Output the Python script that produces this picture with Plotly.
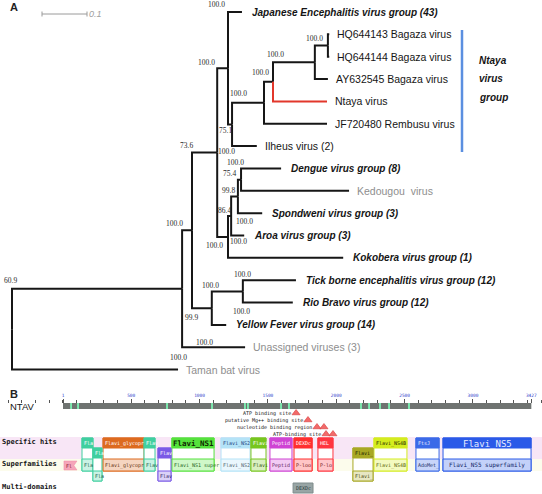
import plotly.graph_objects as go

W, H = 542, 494

# ---------------- Panel A: phylogenetic tree (data) ----------------
LEAF_IDS = ["JE", "HQ3", "HQ4", "AY", "NTA", "REM", "ILH", "DEN", "KED", "SPO",
            "ARO", "KOK", "TBE", "RIO", "YF", "UNA", "TAM"]
LEAF_LABELS = [
    "Japanese Encephalitis virus group (43)",
    "HQ644143 Bagaza virus",
    "HQ644144 Bagaza virus",
    "AY632545 Bagaza virus",
    "Ntaya virus",
    "JF720480 Rembusu virus",
    "Ilheus virus (2)",
    "Dengue virus group (8)",
    "Kedougou\u00a0\u00a0virus",
    "Spondweni virus group (3)",
    "Aroa virus group (3)",
    "Kokobera virus group (1)",
    "Tick borne encephalitis virus group (12)",
    "Rio Bravo virus group (12)",
    "Yellow Fever virus group (14)",
    "Unassigned viruses (3)",
    "Taman bat virus",
]
# distance from root (substitutions/site)
LEAF_DEPTH = [0.511, 0.705, 0.705, 0.702, 0.700, 0.700, 0.544, 0.598, 0.749, 0.556,
              0.516, 0.736, 0.631, 0.624, 0.476, 0.518, 0.369]
LEAF_KIND = ["group", "strain", "strain", "strain", "strain", "strain", "strain", "group",
             "other", "group", "group", "group", "group", "group", "group", "other", "other"]

NODE_IDS = ["J", "I", "H", "G", "F", "E", "L", "M", "N", "K", "D", "P", "O", "B", "N1", "R"]
NODE_DEPTH = [0.702, 0.673, 0.580, 0.560, 0.489, 0.480, 0.509, 0.502, 0.487, 0.480,
              0.456, 0.513, 0.444, 0.400, 0.378, 0.000]
NODE_CHILDREN = [["HQ3", "HQ4"], ["J", "AY"], ["I", "NTA"], ["H", "REM"], ["G", "ILH"],
                 ["JE", "F"], ["DEN", "KED"], ["L", "SPO"], ["M", "ARO"], ["N", "KOK"],
                 ["E", "K"], ["TBE", "RIO"], ["P", "YF"], ["D", "O"], ["B", "UNA"], ["N1", "TAM"]]
HIGHLIGHT = "NTA"

BOOT_VALUES = ["100.0", "100.0", "100.0", "100.0", "100.0", "100.0", "75.1", "73.6",
               "100.0", "100.0", "75.4", "99.8", "86.4", "100.0", "100.0", "100.0",
               "100.0", "60.9", "100.0", "100.0", "100.0", "99.9", "100.0", "100.0"]
BOOT_NODE = ["E", "D", "F", "H", "G", "J", "E", "B", "D", "L", "M", "N", "K", "M", "N", "D",
             "N1", "R", "P", "O", "P", "B", "O", "N1"]
BOOT_PART = ["top", "top", "top", "top", "top", "top", "bot", "top", "mid", "top", "top", "top",
             "top", "bot", "bot", "bot", "top", "top", "top", "top", "bot", "bot", "bot", "bot"]

SCALE_LEN = 0.1
CLADE_LABEL = ["Ntaya", "virus", "group"]

# ---------------- Panel B: domain map (data, residue positions) ----------------
SEQ_LEN = 3427
RULER_TICKS = [1, 500, 1000, 1500, 2000, 2500, 3000, 3427]
SITE_MARKS = [60, 111, 762, 1091, 1332, 1354, 1596, 1654, 2181, 2240, 2320, 2386, 2532]

SPEC_NAMES = ["Fla", "Flavi_glycopr", "Flav", "Flavi_NS1", "Flavi_NS2", "Flavi", "Peptid",
              "DEXDc", "HEL", "Flavi_NS4B", "FtsJ", "Flavi_NS5"]
SPEC_START = [140, 294, 594, 798, 1157, 1376, 1515, 1691, 1866, 2276, 2583, 2781]
SPEC_END = [220, 594, 674, 1106, 1369, 1486, 1676, 1823, 1976, 2517, 2752, 3425]
SUPER_NAMES = ["Fla", "Flavi_glycopr", "Flav", "Flavi_NS1 super", "Flavi_NS2", "Flavi",
               "Peptid", "P-loo", "P-lo", "Flavi_NS4B", "AdoMet_", "Flavi_NS5 superfamily"]

SPEC2_NAMES = ["Fla", "Flav", "Flavi_"]
SPEC2_START = [220, 696, 2122]
SPEC2_END = [286, 791, 2269]
SUPER2_NAMES = ["Fla", "Flav", "Flavi_"]

EXTRA_SF_NAME = "Fl"
EXTRA_SF_START, EXTRA_SF_END = 8, 103

MULTI_NAMES = ["DEXDc"]
MULTI_START = [1684]
MULTI_END = [1830]

SITE_NAMES = ["ATP binding site", "putative Mg++ binding site",
              "nucleotide binding region", "ATP-binding site"]
SITE_POS = [[1706], [1793], [1859, 1910], [1925, 1976]]

# ---------------- styles ----------------
SPEC_COLORS = ["#3fcf9f", "#dd6a1f", "#3fcf9f", "#55e23c", "#b4e3f7", "#77c61e", "#cf44d4",
               "#ff2f2f", "#ff3640", "#d4ec1e", "#3b6ae8", "#2a5ae8"]
SPEC_TEXT = ["white", "white", "white", "#102800", "#1d3f80", "white", "white", "white",
             "white", "#2a2a00", "#e8ecff", "#e8ecff"]
SPEC2_COLORS = ["#3fcf9f", "#7a5ae6", "#a8a824"]
SPEC2_TEXT = ["white", "white", "#222200"]

SANS = "Liberation Sans, Arial, sans-serif"
SERIF = "Liberation Serif, Times New Roman, serif"
MONO = "DejaVu Sans Mono, monospace"

X0PX, XSCALE = 12.0, 450.0          # tree x: px = 12 + depth*450
Y0PX, YSTEP = 12.0, 22.35           # tree y: px = 12 + index*22.35
P0PX, PSCALE = 63.0, 0.1367         # residue axis: px = 63 + (p-1)*0.1367


def mix(c, t):
    r, g, b = int(c[1:3], 16), int(c[3:5], 16), int(c[5:7], 16)
    return "#%02x%02x%02x" % (round(r + (255 - r) * t), round(g + (255 - g) * t), round(b + (255 - b) * t))


def darker(c, t):
    r, g, b = int(c[1:3], 16), int(c[3:5], 16), int(c[5:7], 16)
    return "#%02x%02x%02x" % (round(r * (1 - t)), round(g * (1 - t)), round(b * (1 - t)))


def px(x):
    return x / W


def py(y):
    return 1 - y / H


fig = go.Figure()
shapes = []
anns = []

# ---------------- tree geometry ----------------
pos = {}
for k, (lid, d) in enumerate(zip(LEAF_IDS, LEAF_DEPTH)):
    pos[lid] = (d, float(k))
for nid, d, ch in zip(NODE_IDS, NODE_DEPTH, NODE_CHILDREN):
    pos[nid] = (d, (pos[ch[0]][1] + pos[ch[-1]][1]) / 2.0)

bx, by, rx, ry = [], [], [], []
for nid, ch in zip(NODE_IDS, NODE_CHILDREN):
    nd, ny = pos[nid]
    for c in ch:
        cd, cy = pos[c]
        if c == HIGHLIGHT:
            rx += [nd, nd, cd, None]
            ry += [ny, cy, cy, None]
        else:
            bx += [nd, nd, cd, None]
            by += [ny, cy, cy, None]

fig.add_trace(go.Scatter(x=bx, y=by, mode="lines", line=dict(color="#161616", width=2),
                         hoverinfo="skip", xaxis="x", yaxis="y"))
fig.add_trace(go.Scatter(x=rx, y=ry, mode="lines", line=dict(color="#e2372b", width=2),
                         hoverinfo="skip", xaxis="x", yaxis="y"))

for lid, lab, kind in zip(LEAF_IDS, LEAF_LABELS, LEAF_KIND):
    d, i = pos[lid]
    if kind == "group":
        txt, col, size, sh = "<b><i>%s</i></b>" % lab, "#151515", 10, 8
    elif kind == "strain":
        txt, col, size, sh = lab, "#151515", 10.5, 6
    else:
        txt, col, size, sh = lab, "#8e8e8e", 10.5, 6
    anns.append(dict(x=d, y=i, xref="x", yref="y", text=txt, showarrow=False,
                     xanchor="left", yanchor="middle", xshift=sh,
                     font=dict(family=SANS, size=size, color=col)))

BOOT_OFFSETS = [(-12, -8), (-11, -6), (6, -9), (2, -8), (-4, -9), (-13, 4), (-3, 6), (-6, -7),
                (9, -1), (-6, -6), (-8, -6), (-3, -6), (-4, -5), (7, 8), (7, 6), (-3, 9),
                (-8, -7), (-2, -8), (0, -6), (-1, -6), (-1, 9), (-1, 9), (-7, 18), (-4, 10)]
node_children = dict(zip(NODE_IDS, NODE_CHILDREN))
for val, nid, part, (dx, dy) in zip(BOOT_VALUES, BOOT_NODE, BOOT_PART, BOOT_OFFSETS):
    d, ymid = pos[nid]
    if part == "top":
        yy = pos[node_children[nid][0]][1]
    elif part == "bot":
        yy = pos[node_children[nid][-1]][1]
    else:
        yy = ymid
    anns.append(dict(x=d, y=yy, xref="x", yref="y", text=val, showarrow=False,
                     xanchor="center", yanchor="middle", xshift=dx, yshift=-dy,
                     font=dict(family=SERIF, size=7.5, color="#2a2a2a")))

# scale bar
sb_x0 = (42 - X0PX) / XSCALE
sb_y = py(14)
shapes.append(dict(type="line", xref="x", yref="paper", x0=sb_x0, x1=sb_x0 + SCALE_LEN,
                   y0=sb_y, y1=sb_y, line=dict(color="#9a9a9a", width=1)))
for xe in (sb_x0, sb_x0 + SCALE_LEN):
    shapes.append(dict(type="line", xref="x", yref="paper", x0=xe, x1=xe,
                       y0=py(11.5), y1=py(16.5), line=dict(color="#9a9a9a", width=1)))
anns.append(dict(x=sb_x0 + SCALE_LEN, y=sb_y, xref="x", yref="paper", text="<i>0.1</i>",
                 showarrow=False, xanchor="left", yanchor="middle", xshift=0,
                 font=dict(family=SANS, size=9, color="#a0a0a0")))

# panel letters
anns.append(dict(x=px(13.5), y=py(7), xref="paper", yref="paper", text="<b>A</b>", showarrow=False,
                 xanchor="center", yanchor="middle", font=dict(family=SANS, size=11, color="#222")))
anns.append(dict(x=px(13.5), y=py(393.5), xref="paper", yref="paper", text="<b>B</b>", showarrow=False,
                 xanchor="center", yanchor="middle", font=dict(family=SANS, size=11, color="#222")))

# clade bracket
shapes.append(dict(type="line", xref="paper", yref="paper", x0=px(462), x1=px(462),
                   y0=py(30), y1=py(152), line=dict(color="#5b8fe0", width=2.5)))
for k, w in enumerate(CLADE_LABEL):
    anns.append(dict(x=px(477), y=py(60 + 18.5 * k), xref="paper", yref="paper",
                     text="<b><i>%s</i></b>" % w, showarrow=False, xanchor="left",
                     yanchor="middle", font=dict(family=SANS, size=10, color="#151515")))

# ---------------- Panel B ----------------
# background bands
shapes.append(dict(type="rect", xref="paper", yref="y2", x0=0, x1=1, y0=437, y1=459,
                   fillcolor="#f8e6f6", line=dict(width=0), layer="below"))
shapes.append(dict(type="rect", xref="paper", yref="y2", x0=0, x1=1, y0=459, y1=471,
                   fillcolor="#fcfcec", line=dict(width=0), layer="below"))

# sequence bar
shapes.append(dict(type="rect", xref="x2", yref="y2", x0=1, x1=SEQ_LEN, y0=403, y1=409,
                   fillcolor="#6f7371", line=dict(width=0)))
for p in SITE_MARKS:
    shapes.append(dict(type="rect", xref="x2", yref="y2", x0=p - 7, x1=p + 7, y0=403, y1=409,
                       fillcolor="#7debb0", line=dict(width=0)))

anns.append(dict(x=px(8), y=406, xref="paper", yref="y2", text="NTAV", showarrow=False,
                 xanchor="left", yanchor="middle", font=dict(family=SANS, size=9.5, color="#151515")))

for lab, yy in zip(["Specific hits", "Superfamilies", "Multi-domains"], [442, 464, 487]):
    anns.append(dict(x=0, y=yy, xref="paper", yref="y2", text="<b>%s</b>" % lab, showarrow=False,
                     xanchor="left", yanchor="middle", font=dict(family=MONO, size=7, color="#151515")))


def domain_box(s, e, top, hb, st, bot, col, head_txt, head_col, sf_txt, big=False):
    shapes.append(dict(type="rect", xref="x2", yref="y2", x0=s, x1=e, y0=top, y1=bot,
                       fillcolor="white", line=dict(color=col, width=1)))
    shapes.append(dict(type="rect", xref="x2", yref="y2", x0=s, x1=e, y0=top, y1=hb,
                       fillcolor=col, line=dict(color=col, width=1)))
    shapes.append(dict(type="rect", xref="x2", yref="y2", x0=s, x1=e, y0=st, y1=bot,
                       fillcolor=mix(col, 0.72), line=dict(color=col, width=1)))
    if big:
        wide = (e - s) > 500
        hsize = 9 if wide else 7.5
        anns.append(dict(x=(s + e) / 2, y=(top + hb) / 2 + 0.5, xref="x2", yref="y2",
                         text=head_txt if wide else "<b>%s</b>" % head_txt, showarrow=False,
                         xanchor="center", yanchor="middle",
                         font=dict(family=MONO, size=hsize, color=head_col)))
        anns.append(dict(x=(s + e) / 2 if wide else s, y=(st + bot) / 2, xref="x2", yref="y2",
                         text=sf_txt, showarrow=False,
                         xanchor="center" if wide else "left", yanchor="middle",
                         font=dict(family=MONO, size=6 if wide else 5, color=darker(col, 0.55))))
    else:
        anns.append(dict(x=s, y=(top + hb) / 2, xref="x2", yref="y2", text=head_txt,
                         showarrow=False, xanchor="left", yanchor="middle", xshift=0,
                         font=dict(family=MONO, size=5, color=head_col)))
        anns.append(dict(x=s, y=(st + bot) / 2, xref="x2", yref="y2", text=sf_txt,
                         showarrow=False, xanchor="left", yanchor="middle", xshift=0,
                         font=dict(family=MONO, size=5, color=darker(col, 0.55))))


for n, s, e, sf, col, tc in zip(SPEC_NAMES, SPEC_START, SPEC_END, SUPER_NAMES, SPEC_COLORS, SPEC_TEXT):
    domain_box(s, e, 438, 448, 459, 471, col, n, tc, sf, big=n in ("Flavi_NS1", "Flavi_NS5"))
for n, s, e, sf, col, tc in zip(SPEC2_NAMES, SPEC2_START, SPEC2_END, SUPER2_NAMES, SPEC2_COLORS, SPEC2_TEXT):
    domain_box(s, e, 448, 458, 471, 481, col, n, tc, sf)

# superfamily-only flag shape
notch = 3 / PSCALE
shapes.append(dict(type="path", xref="x2", yref="y2",
                   path="M %f,461 L %f,461 L %f,465.5 L %f,470 L %f,470 Z" % (
                       EXTRA_SF_START, EXTRA_SF_END, EXTRA_SF_END - notch, EXTRA_SF_END, EXTRA_SF_START),
                   fillcolor="#f5a6ba", line=dict(color="#f08aa2", width=0.5)))
anns.append(dict(x=EXTRA_SF_START, y=465.5, xref="x2", yref="y2", text=EXTRA_SF_NAME, showarrow=False,
                 xanchor="left", yanchor="middle", font=dict(family=MONO, size=5, color="#8a1830")))

# multi-domain
for n, s, e in zip(MULTI_NAMES, MULTI_START, MULTI_END):
    shapes.append(dict(type="rect", xref="x2", yref="y2", x0=s, x1=e, y0=483, y1=493,
                       fillcolor="#98a5a5", line=dict(color="#7e8c8c", width=1)))
    anns.append(dict(x=(s + e) / 2, y=488, xref="x2", yref="y2", text=n, showarrow=False,
                     xanchor="center", yanchor="middle", font=dict(family=MONO, size=5, color="#2a3a3a")))

# site annotations
SITE_ROWS = [413, 420, 427, 434]
tx, ty = [], []
for name, ps, yy in zip(SITE_NAMES, SITE_POS, SITE_ROWS):
    for p in ps:
        tx.append(p)
        ty.append(yy)
    anns.append(dict(x=ps[0], y=yy, xref="x2", yref="y2", text=name, showarrow=False,
                     xanchor="right", yanchor="middle", xshift=-3,
                     font=dict(family=MONO, size=5, color="#111")))
fig.add_trace(go.Scatter(x=tx, y=ty, mode="markers", xaxis="x2", yaxis="y2", hoverinfo="skip",
                         marker=dict(symbol="triangle-up", size=7, color="#f26a6a",
                                     line=dict(color="#d83a3a", width=0.6))))

fig.update_layout(
    width=W, height=H, margin=dict(l=0, r=0, t=0, b=0),
    paper_bgcolor="white", plot_bgcolor="white", showlegend=False,
    xaxis=dict(domain=[0, 1], range=[-X0PX / XSCALE, (W - X0PX) / XSCALE], visible=False),
    yaxis=dict(domain=[0, 1], range=[(H - Y0PX) / YSTEP, -Y0PX / YSTEP], visible=False),
    xaxis2=dict(domain=[0, 1], range=[1 - P0PX / PSCALE, 1 + (W - P0PX) / PSCALE],
                anchor="free", position=py(403), side="top", overlaying="x",
                showgrid=False, zeroline=False, showline=False,
                ticks="outside", ticklen=4, tickwidth=1, tickcolor="#555",
                tickmode="array", tickvals=RULER_TICKS, ticktext=[str(v) for v in RULER_TICKS],
                tickfont=dict(family=MONO, size=4.5, color="#3344cc"),
                minor=dict(ticks="outside", ticklen=3, tickcolor="#555", dtick=100, tick0=0,
                           showgrid=False)),
    yaxis2=dict(domain=[0, 1], range=[H, 0], overlaying="y", anchor="x2", visible=False),
    shapes=shapes, annotations=anns,
)

fig.write_html("out.html", config={"displayModeBar": False},
               post_script="document.body.style.margin='0';document.body.style.padding='0';"
                           "document.body.style.overflow='hidden';")
